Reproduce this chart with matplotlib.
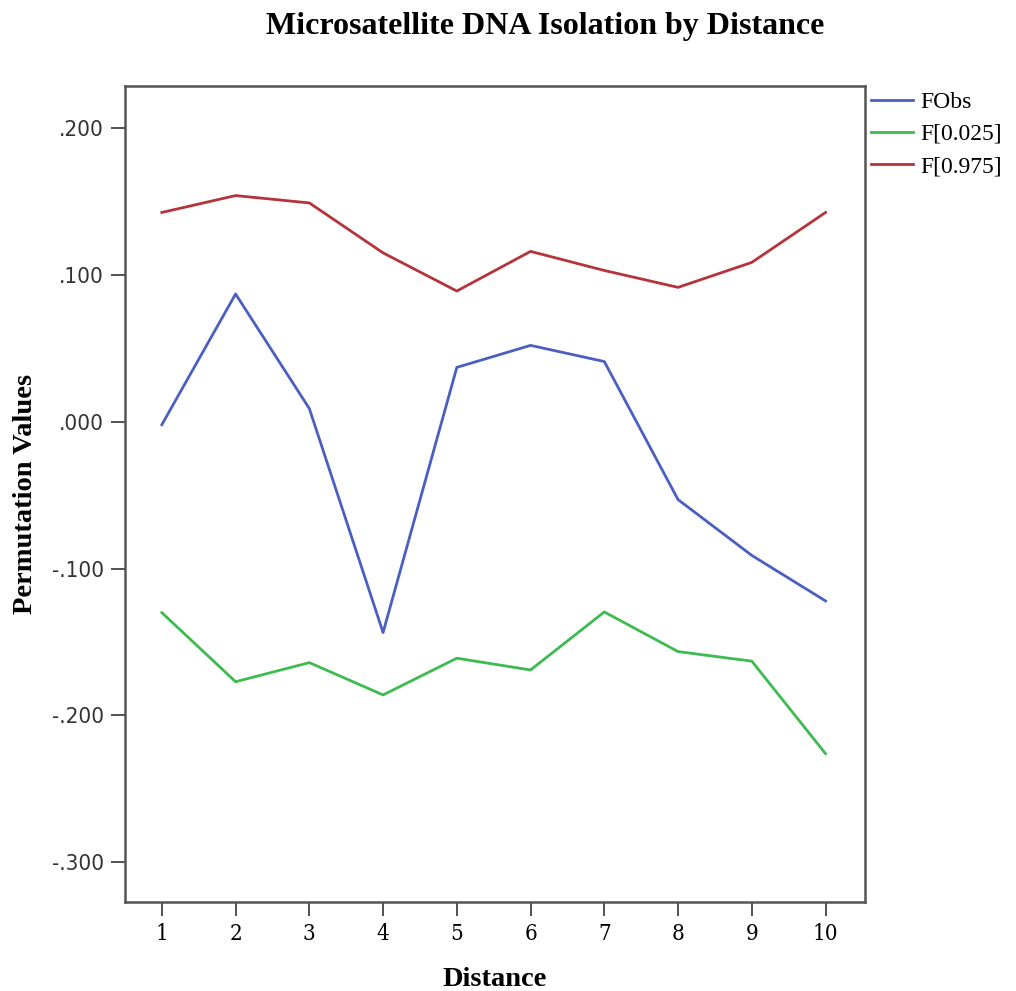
import numpy as np
import matplotlib.pyplot as plt

distance = [1, 2, 3, 4, 5, 6, 7, 8, 9, 10]
f_obs = [-0.002, 0.087, 0.009, -0.1435, 0.037, 0.052, 0.041, -0.053, -0.091, -0.122]
f_low = [-0.130, -0.177, -0.164, -0.186, -0.161, -0.169, -0.1295, -0.1565, -0.163, -0.226]
f_high = [0.1425, 0.154, 0.149, 0.115, 0.089, 0.116, 0.103, 0.0915, 0.1085, 0.1425]
yticks = [-0.3, -0.2, -0.1, 0.0, 0.1, 0.2]
ytick_labels = ['-.300', '-.200', '-.100', '.000', '.100', '.200']

fig = plt.figure(figsize=(10.16, 9.91), dpi=100)
ax = fig.add_axes([0.123, 0.0898, 0.728, 0.8234])

ax.plot(distance, f_obs, color='#4a5fbf', lw=2, label='FObs')
ax.plot(distance, f_low, color='#3dbb50', lw=2, label='F[0.025]')
ax.plot(distance, f_high, color='#b5333a', lw=2, label='F[0.975]')

ax.set_xlim(0.5, 10.53)
ax.set_ylim(-0.327, 0.2286)
ax.set_xticks(distance)
ax.set_xticklabels([str(d) for d in distance], fontsize=16, family='DejaVu Serif', fontstretch='condensed')
ax.set_yticks(yticks)
ax.set_yticklabels(ytick_labels, fontsize=16, family='DejaVu Sans', fontstretch='condensed', color='#333333')
ax.tick_params(direction='out', length=10, width=1.3, color='#444444', pad=5)
for s in ax.spines.values():
	s.set_color('#555555')
	s.set_linewidth(1.8)

ax.set_xlabel('Distance', fontsize=20.5, family='Liberation Serif', fontweight='bold', labelpad=16)
ax.set_ylabel('Permutation Values', fontsize=20.5, family='Liberation Serif', fontweight='bold', labelpad=10)
fig.suptitle('Microsatellite DNA Isolation by Distance', x=0.537, y=0.988,
	fontsize=23, family='Liberation Serif', fontweight='bold')

leg = ax.legend(loc='upper left', bbox_to_anchor=(0.992, 1.008), frameon=False,
	prop={'family': 'Liberation Serif', 'size': 17},
	handlelength=1.8, handletextpad=0.3, labelspacing=0.45, borderaxespad=0.1)

plt.savefig('out.png', format='png')
